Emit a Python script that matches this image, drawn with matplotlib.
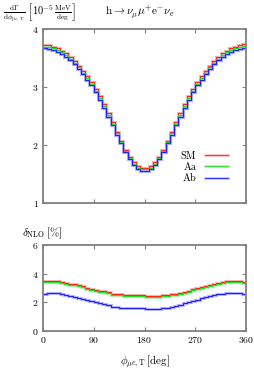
import numpy as np
import matplotlib
matplotlib.use("Agg")
import matplotlib.pyplot as plt
from matplotlib.lines import Line2D

# gnuplot / LaTeX look
plt.rcParams.update({
    "font.family": "serif",
    "font.serif": ["cmr10", "DejaVu Serif"],
    "mathtext.fontset": "cm",
    "axes.formatter.use_mathtext": True,
    "font.size": 7,
    "axes.unicode_minus": False,
})

# data: 48 bins of 7.5 deg
edges = np.linspace(0, 360, 49)

sm_dist = [3.73, 3.72, 3.70, 3.67, 3.63, 3.58, 3.52, 3.45, 3.37, 3.28, 3.19, 3.09,
           2.97, 2.84, 2.70, 2.55, 2.39, 2.23, 2.07, 1.92, 1.80, 1.70, 1.63, 1.60,
           1.60, 1.63, 1.70, 1.80, 1.92, 2.07, 2.23, 2.39, 2.55, 2.70, 2.84, 2.97,
           3.09, 3.19, 3.28, 3.37, 3.45, 3.52, 3.58, 3.63, 3.67, 3.70, 3.72, 3.74]
aa_dist = [3.70, 3.69, 3.67, 3.64, 3.60, 3.55, 3.49, 3.42, 3.34, 3.25, 3.16, 3.06,
           2.94, 2.81, 2.67, 2.52, 2.36, 2.20, 2.05, 1.90, 1.78, 1.68, 1.61, 1.58,
           1.58, 1.61, 1.68, 1.78, 1.90, 2.05, 2.20, 2.36, 2.52, 2.67, 2.81, 2.94,
           3.06, 3.16, 3.25, 3.34, 3.42, 3.49, 3.55, 3.60, 3.64, 3.67, 3.69, 3.71]
ab_dist = [3.67, 3.66, 3.64, 3.61, 3.57, 3.52, 3.46, 3.39, 3.31, 3.22, 3.13, 3.03,
           2.91, 2.78, 2.64, 2.49, 2.34, 2.18, 2.03, 1.88, 1.76, 1.66, 1.59, 1.56,
           1.56, 1.59, 1.66, 1.76, 1.88, 2.03, 2.18, 2.34, 2.49, 2.64, 2.78, 2.91,
           3.03, 3.13, 3.22, 3.31, 3.39, 3.46, 3.52, 3.57, 3.61, 3.64, 3.66, 3.68]

sm_delta = [3.46, 3.50, 3.51, 3.48, 3.43, 3.37, 3.31, 3.25, 3.18, 3.11, 3.03, 2.95,
            2.88, 2.82, 2.77, 2.74, 2.60, 2.57, 2.55, 2.53, 2.51, 2.50, 2.49, 2.48,
            2.47, 2.46, 2.46, 2.47, 2.49, 2.52, 2.56, 2.61, 2.67, 2.74, 2.82, 2.90,
            2.98, 3.06, 3.14, 3.21, 3.28, 3.35, 3.41, 3.46, 3.50, 3.51, 3.49, 3.45]
aa_delta = [3.39, 3.43, 3.44, 3.41, 3.36, 3.30, 3.24, 3.18, 3.11, 3.04, 2.96, 2.88,
            2.81, 2.75, 2.70, 2.67, 2.53, 2.50, 2.48, 2.46, 2.44, 2.43, 2.42, 2.41,
            2.40, 2.39, 2.39, 2.40, 2.42, 2.45, 2.49, 2.54, 2.60, 2.67, 2.75, 2.83,
            2.91, 2.99, 3.07, 3.14, 3.21, 3.28, 3.34, 3.39, 3.43, 3.44, 3.42, 3.38]
ab_delta = [2.60, 2.64, 2.65, 2.63, 2.58, 2.52, 2.45, 2.38, 2.30, 2.22, 2.14, 2.06,
            1.99, 1.93, 1.88, 1.84, 1.68, 1.65, 1.62, 1.60, 1.59, 1.58, 1.57, 1.57,
            1.56, 1.55, 1.55, 1.56, 1.59, 1.63, 1.69, 1.76, 1.84, 1.92, 2.01, 2.10,
            2.19, 2.27, 2.35, 2.43, 2.50, 2.56, 2.61, 2.65, 2.67, 2.67, 2.64, 2.58]

labels = ["SM", "Aa", "Ab"]
colors = ["#ff2020", "#20e020", "#2020ff"]
bands = ["#ffb0b0", "#a8f0a8", "#b0b0ff"]

fig = plt.figure(figsize=(2.54, 3.69), dpi=100)
ax1 = fig.add_axes([0.169, 0.450, 0.800, 0.471])
ax2 = fig.add_axes([0.169, 0.103, 0.800, 0.233])


def style(ax):
    for s in ax.spines.values():
        s.set_color("#808080")
        s.set_linewidth(1.3)
        s.set_zorder(5)
    ax.tick_params(direction="in", top=True, right=True, length=3,
                   color="#808080", width=0.8, labelsize=7, pad=3)
    ax.set_xlim(0, 360)
    ax.set_xticks([0, 90, 180, 270, 360])


dists = [sm_dist, aa_dist, ab_dist]
deltas = [sm_delta, aa_delta, ab_delta]
for i in range(3):
    ax1.stairs(dists[i], edges, color=bands[i], lw=2.2, baseline=None)
for i in range(3):
    ax1.stairs(dists[i], edges, color=colors[i], lw=0.8, baseline=None)
for i in range(3):
    ax2.stairs(deltas[i], edges, color=bands[i], lw=2.0, baseline=None)
for i in range(3):
    ax2.stairs(deltas[i], edges, color=colors[i], lw=0.8, baseline=None)

style(ax1)
ax1.set_ylim(1, 4)
ax1.set_yticks([1, 2, 3, 4])
ax1.set_xticklabels([])

style(ax2)
ax2.set_ylim(0, 6)
ax2.set_yticks([0, 2, 4, 6])

handles = [(Line2D([], [], color=bands[i], lw=1.8),
            Line2D([], [], color=colors[i], lw=0.6)) for i in range(3)]
leg = ax1.legend(handles, labels, loc="lower right", frameon=False,
                 markerfirst=False, handlelength=2.2, handletextpad=0.8,
                 labelspacing=0.15, fontsize=7.5, bbox_to_anchor=(0.955, 0.06))
for t in leg.get_texts():
    t.set_ha("right")

fig.text(0.012, 0.965,
         r"$\frac{\mathrm{d}\Gamma}{\mathrm{d}\phi_{\mu e,\mathrm{T}}}"
         r"\ \left[10^{-5}\,\frac{\mathrm{MeV}}{\mathrm{deg}}\right]$",
         fontsize=7.5, va="center", ha="left")
fig.text(0.415, 0.965, r"$\mathrm{h}\rightarrow\nu_\mu\mu^{+}\mathrm{e}^{-}\nu_\mathrm{e}$",
         fontsize=8, va="center", ha="left")
fig.text(0.085, 0.368, r"$\delta_\mathrm{NLO}\,[\%]$", fontsize=8,
         va="center", ha="left")
fig.text(0.569, 0.020, r"$\phi_{\mu e,\mathrm{T}}\,[\mathrm{deg}]$", fontsize=8,
         va="center", ha="center")

fig.savefig("out.png", dpi=100)
